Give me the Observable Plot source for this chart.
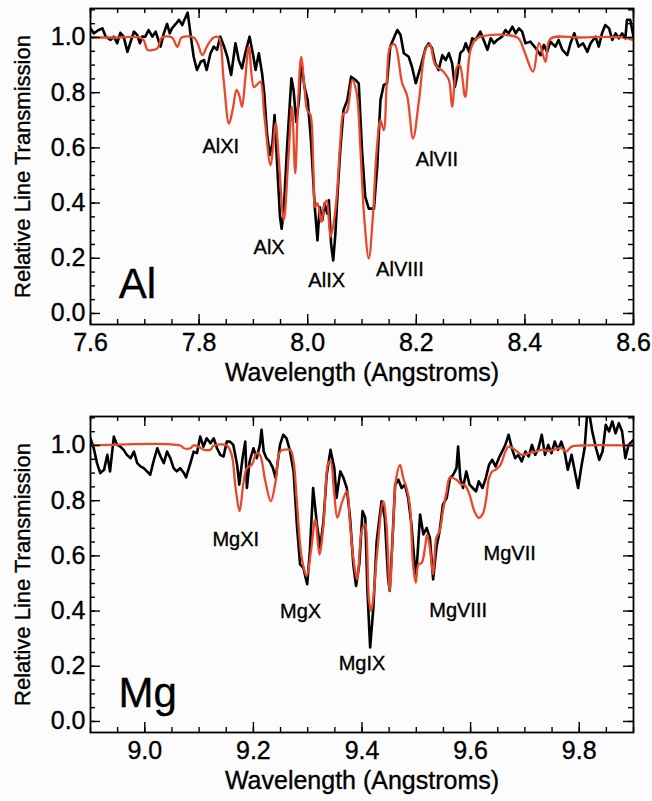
<!DOCTYPE html>
<html><head><meta charset="utf-8">
<script src="https://cdn.jsdelivr.net/npm/d3@7"></script>
<script src="https://cdn.jsdelivr.net/npm/@observablehq/plot@0.6"></script>
<style>
html,body{margin:0;padding:0;background:#fcfcfd;}
#chart{width:652px;}
#chart svg{display:block;}
#chart svg text{stroke:#000;stroke-width:0.35px;paint-order:stroke;}
</style></head><body><div id="chart"></div>
<script>
// ---------- Al panel data (wavelength Å, relative transmission) ----------
const alObserved = [[7.600,1.033],[7.606,1.015],[7.615,1.027],[7.622,1.033],[7.628,1.003],[7.637,0.991],[7.643,1.003],[7.649,0.979],[7.655,1.017],[7.661,1.003],[7.668,0.948],[7.674,0.985],[7.680,1.021],[7.686,1.009],[7.691,0.979],[7.695,1.003],[7.701,1.003],[7.707,1.027],[7.714,1.003],[7.720,1.021],[7.729,0.967],[7.735,1.015],[7.741,1.049],[7.746,1.015],[7.750,1.033],[7.757,1.049],[7.763,1.064],[7.769,1.045],[7.773,1.064],[7.779,1.090],[7.784,1.015],[7.790,0.930],[7.796,0.882],[7.803,0.912],[7.809,0.918],[7.814,0.882],[7.821,0.943],[7.827,0.967],[7.833,0.955],[7.839,1.003],[7.846,0.967],[7.852,0.930],[7.859,0.864],[7.867,0.979],[7.873,0.918],[7.879,0.888],[7.885,0.943],[7.893,1.003],[7.900,0.930],[7.904,0.882],[7.910,0.943],[7.916,0.870],[7.920,0.797],[7.925,0.652],[7.930,0.574],[7.935,0.616],[7.939,0.719],[7.944,0.531],[7.949,0.350],[7.952,0.307],[7.956,0.374],[7.962,0.604],[7.970,0.852],[7.974,0.809],[7.979,0.694],[7.984,0.773],[7.988,0.912],[7.994,0.821],[8.000,0.773],[8.006,0.628],[8.013,0.386],[8.018,0.265],[8.022,0.386],[8.027,0.338],[8.031,0.398],[8.036,0.362],[8.039,0.410],[8.043,0.253],[8.047,0.192],[8.051,0.289],[8.055,0.434],[8.060,0.592],[8.066,0.737],[8.073,0.773],[8.080,0.858],[8.088,0.846],[8.094,0.834],[8.100,0.592],[8.106,0.422],[8.1125,0.380],[8.122,0.380],[8.128,0.531],[8.134,0.773],[8.140,0.828],[8.146,0.834],[8.152,0.967],[8.165,1.027],[8.171,1.009],[8.177,0.943],[8.186,0.930],[8.192,0.894],[8.199,0.834],[8.208,0.894],[8.217,0.961],[8.223,0.979],[8.229,0.961],[8.235,0.906],[8.241,0.882],[8.248,0.936],[8.254,0.918],[8.260,0.943],[8.266,0.906],[8.271,0.821],[8.275,0.858],[8.281,0.943],[8.287,0.955],[8.291,0.979],[8.297,0.948],[8.303,0.997],[8.309,0.991],[8.318,1.021],[8.324,0.991],[8.331,0.955],[8.337,0.997],[8.343,0.979],[8.349,0.991],[8.358,1.003],[8.364,1.027],[8.370,1.015],[8.377,1.039],[8.383,1.015],[8.389,1.033],[8.395,1.021],[8.401,0.979],[8.410,0.985],[8.420,0.961],[8.429,0.936],[8.435,0.973],[8.441,0.948],[8.447,0.985],[8.456,0.967],[8.462,0.991],[8.469,0.955],[8.478,0.936],[8.484,0.979],[8.491,1.015],[8.499,0.967],[8.507,0.979],[8.515,0.948],[8.521,0.979],[8.530,1.003],[8.536,0.967],[8.542,1.015],[8.548,1.045],[8.555,1.033],[8.561,0.991],[8.567,1.015],[8.573,0.997],[8.579,1.015],[8.585,0.997],[8.588,1.064],[8.594,1.064],[8.600,1.003]];

const alModel = [[7.600,1.00],[7.650,1.00],[7.690,1.00],[7.698,0.99],[7.705,0.955],[7.715,0.955],[7.723,0.96],[7.732,1.00],[7.750,1.00],[7.760,0.966],[7.768,1.00],[7.790,1.00],[7.797,0.98],[7.806,0.936],[7.815,0.97],[7.827,1.00],[7.836,1.00],[7.845,0.85],[7.855,0.688],[7.862,0.74],[7.869,0.81],[7.874,0.79],[7.879,0.749],[7.885,0.85],[7.8915,0.967],[7.901,0.82],[7.907,0.83],[7.913,0.84],[7.920,0.72],[7.9315,0.537],[7.937,0.62],[7.941,0.69],[7.947,0.55],[7.956,0.338],[7.964,0.55],[7.971,0.749],[7.977,0.508],[7.982,0.75],[7.988,0.93],[7.994,0.82],[7.999,0.737],[8.005,0.72],[8.010,0.55],[8.014,0.386],[8.018,0.40],[8.025,0.331],[8.030,0.39],[8.035,0.41],[8.042,0.277],[8.048,0.33],[8.054,0.435],[8.060,0.62],[8.066,0.725],[8.072,0.73],[8.082,0.846],[8.090,0.80],[8.097,0.60],[8.104,0.35],[8.1125,0.199],[8.120,0.35],[8.127,0.59],[8.134,0.70],[8.140,0.664],[8.146,0.85],[8.152,0.967],[8.160,0.975],[8.174,0.834],[8.183,0.79],[8.194,0.634],[8.205,0.773],[8.217,0.955],[8.225,0.976],[8.235,0.90],[8.250,0.876],[8.260,0.846],[8.266,0.749],[8.275,0.894],[8.280,0.90],[8.290,0.785],[8.300,0.955],[8.312,0.997],[8.386,1.00],[8.398,0.955],[8.415,0.876],[8.426,0.98],[8.438,0.912],[8.447,0.995],[8.500,1.00],[8.580,1.00],[8.600,0.99]];

const alIonNames = ["AlXI","AlX","AlIX","AlVIII","AlVII"];
const alIonWave  = [7.840, 7.929, 8.035, 8.170, 8.238];
const alIonLevel = [0.605, 0.239, 0.120, 0.158, 0.556];
const alTicks = [7.6, 7.8, 8.0, 8.2, 8.4, 8.6];

// ---------- Mg panel data ----------
const mgObserved = [[8.900,1.026],[8.906,0.990],[8.912,0.936],[8.918,0.900],[8.925,0.912],[8.931,0.966],[8.936,0.906],[8.943,1.032],[8.949,1.002],[8.955,0.996],[8.961,0.984],[8.967,0.966],[8.974,0.954],[8.980,0.978],[8.986,0.936],[8.992,0.924],[8.998,0.918],[9.004,0.906],[9.010,0.894],[9.016,0.942],[9.023,0.990],[9.029,0.960],[9.035,0.936],[9.041,0.978],[9.047,0.954],[9.053,0.918],[9.059,0.906],[9.065,0.918],[9.072,0.900],[9.076,0.884],[9.084,0.936],[9.090,0.978],[9.096,0.972],[9.102,1.032],[9.108,0.996],[9.114,1.026],[9.121,1.008],[9.127,1.026],[9.133,0.990],[9.139,0.966],[9.145,0.960],[9.151,1.014],[9.157,1.014],[9.163,1.002],[9.170,0.930],[9.174,0.858],[9.180,0.954],[9.185,1.014],[9.188,0.846],[9.193,0.942],[9.200,0.990],[9.206,0.954],[9.212,1.002],[9.215,1.057],[9.219,0.978],[9.224,0.954],[9.230,0.942],[9.236,0.918],[9.241,0.882],[9.249,1.002],[9.255,1.039],[9.261,1.026],[9.267,0.984],[9.274,0.906],[9.280,0.714],[9.286,0.569],[9.292,0.557],[9.299,0.497],[9.304,0.617],[9.310,0.846],[9.317,0.714],[9.323,0.629],[9.329,0.726],[9.335,0.894],[9.342,0.984],[9.349,0.918],[9.353,0.810],[9.360,0.906],[9.366,0.882],[9.372,0.846],[9.378,0.738],[9.384,0.569],[9.389,0.491],[9.395,0.569],[9.401,0.762],[9.406,0.738],[9.410,0.473],[9.415,0.268],[9.421,0.413],[9.427,0.653],[9.436,0.798],[9.442,0.738],[9.448,0.521],[9.451,0.473],[9.456,0.653],[9.461,0.858],[9.467,0.876],[9.473,0.846],[9.479,0.858],[9.485,0.810],[9.491,0.714],[9.497,0.569],[9.500,0.533],[9.507,0.750],[9.513,0.678],[9.519,0.701],[9.525,0.666],[9.531,0.515],[9.537,0.629],[9.543,0.690],[9.549,0.786],[9.556,0.810],[9.562,0.882],[9.568,0.894],[9.574,0.918],[9.577,0.996],[9.581,0.882],[9.586,0.846],[9.592,0.906],[9.598,0.858],[9.604,0.846],[9.610,0.834],[9.615,0.870],[9.622,0.846],[9.628,0.882],[9.634,0.930],[9.640,0.948],[9.646,0.924],[9.652,0.954],[9.658,0.978],[9.664,1.002],[9.670,1.039],[9.676,0.990],[9.682,0.954],[9.688,0.966],[9.694,0.942],[9.701,0.978],[9.707,0.960],[9.713,1.002],[9.719,0.966],[9.725,0.990],[9.731,1.039],[9.737,0.966],[9.743,1.002],[9.749,0.972],[9.755,1.014],[9.761,0.984],[9.767,1.014],[9.773,0.978],[9.779,0.912],[9.786,0.966],[9.792,0.906],[9.798,0.846],[9.804,0.924],[9.810,0.990],[9.814,1.099],[9.818,1.123],[9.824,1.051],[9.831,0.990],[9.837,0.948],[9.843,0.978],[9.849,1.075],[9.855,1.051],[9.861,1.087],[9.867,1.044],[9.873,1.081],[9.879,1.051],[9.885,0.954],[9.891,1.002],[9.900,1.020]];

const mgModel = [[8.900,1.0],[9.065,1.0],[9.072,0.99],[9.084,0.99],[9.090,1.0],[9.100,0.995],[9.108,0.985],[9.121,0.985],[9.127,1.0],[9.151,1.0],[9.160,0.966],[9.167,0.85],[9.1745,0.762],[9.182,0.87],[9.188,0.918],[9.197,0.93],[9.206,0.972],[9.212,0.966],[9.222,0.87],[9.232,0.798],[9.241,0.87],[9.249,0.978],[9.258,0.985],[9.268,0.984],[9.274,0.942],[9.280,0.798],[9.289,0.593],[9.298,0.527],[9.306,0.617],[9.314,0.732],[9.3215,0.605],[9.329,0.71],[9.338,0.936],[9.342,0.942],[9.3485,0.834],[9.3546,0.738],[9.3626,0.79],[9.372,0.834],[9.378,0.714],[9.384,0.593],[9.391,0.515],[9.3995,0.69],[9.4055,0.714],[9.413,0.437],[9.417,0.40],[9.421,0.45],[9.427,0.593],[9.439,0.798],[9.445,0.714],[9.451,0.473],[9.457,0.690],[9.463,0.882],[9.470,0.930],[9.476,0.882],[9.482,0.846],[9.488,0.786],[9.494,0.569],[9.499,0.503],[9.504,0.569],[9.510,0.575],[9.516,0.629],[9.520,0.678],[9.525,0.629],[9.531,0.533],[9.537,0.666],[9.543,0.690],[9.549,0.762],[9.556,0.834],[9.562,0.884],[9.574,0.876],[9.583,0.858],[9.589,0.858],[9.598,0.822],[9.607,0.762],[9.615,0.738],[9.622,0.750],[9.628,0.798],[9.634,0.882],[9.640,0.906],[9.646,0.912],[9.655,0.930],[9.664,0.978],[9.670,0.996],[9.682,0.984],[9.694,0.966],[9.707,0.972],[9.719,0.978],[9.731,0.984],[9.743,0.980],[9.755,0.986],[9.767,0.990],[9.776,0.978],[9.786,0.996],[9.804,1.0],[9.900,1.0]];

const mgIonNames = ["MgXI","MgX","MgIX","MgVIII","MgVII"];
const mgIonWave  = [9.1675, 9.287, 9.400, 9.577, 9.672];
const mgIonLevel = [0.658, 0.399, 0.210, 0.402, 0.609];
const mgTicks = [9.0, 9.2, 9.4, 9.6, 9.8];

const yTicks = [0.0, 0.2, 0.4, 0.6, 0.8, 1.0];
const yDomain = [-0.04, 1.105];
const xTitle = "Wavelength (Angstroms)";
const yTitle = "Relative Line Transmission";

const FONT = "'Liberation Sans', Arial, Helvetica, sans-serif";
const RED = "#e8482c";

function panel({xDomain, xTicks, observed, model, names, waves, levels, element, elementWave, elementLevel, height, marginTop, marginBottom}) {
  const W = 652, mL = 90, mR = 19;
  const plotW = W - mL - mR, plotH = height - marginTop - marginBottom;
  const inX = v => v >= xDomain[0] - 1e-9 && v <= xDomain[1] + 1e-9;
  const xMinor = d3.range(Math.round(xDomain[0] * 20), Math.round(xDomain[1] * 20) + 1).map(i => i / 20).filter(inX);
  const yMinor = d3.range(0, 23).map(i => i / 20).filter(v => v <= yDomain[1]);
  const labels = names.map((n, i) => ({n, w: waves[i], t: levels[i]}));
  const tick = (data, opts) => Plot.ruleX(data, {x: d => d, stroke: "#000", strokeWidth: 1.4, ...opts});
  const tickY = (data, opts) => Plot.ruleY(data, {y: d => d, stroke: "#000", strokeWidth: 1.4, ...opts});
  return Plot.plot({
    width: W, height, marginLeft: mL, marginRight: mR, marginTop, marginBottom,
    style: {fontFamily: FONT, background: "#fcfcfd", color: "#000"},
    x: {domain: xDomain},
    y: {domain: yDomain},
    marks: [
      Plot.line(observed, {x: d => d[0], y: d => d[1], stroke: "#000", strokeWidth: 2.6, clip: true}),
      Plot.line(model, {x: d => d[0], y: d => d[1], stroke: RED, strokeWidth: 2.3, curve: "catmull-rom", clip: true}),
      tick(xMinor, {insetTop: plotH - 5}),
      tick(xTicks, {insetTop: plotH - 10}),
      tick(xMinor, {insetBottom: plotH - 5}),
      tick(xTicks, {insetBottom: plotH - 10}),
      tickY(yMinor, {insetRight: plotW - 5}),
      tickY(yTicks, {insetRight: plotW - 10}),
      tickY(yMinor, {insetLeft: plotW - 5}),
      tickY(yTicks, {insetLeft: plotW - 10}),
      Plot.frame({stroke: "#000", strokeWidth: 1.8}),
      Plot.axisX(xTicks, {anchor: "bottom", tickSize: 0, tickPadding: 9, tickFormat: d => d.toFixed(1), fontSize: 25, label: null}),
      Plot.axisY(yTicks, {anchor: "left", tickSize: 0, tickPadding: 5, tickFormat: d => d.toFixed(1), fontSize: 25, label: null}),
      Plot.text([xTitle], {text: d => d, frameAnchor: "bottom", dy: 56, fontSize: 25}),
      Plot.text([yTitle], {text: d => d, frameAnchor: "left", textAnchor: "middle", rotate: -90, dx: -68, fontSize: 22}),
      Plot.text(labels, {x: "w", y: "t", text: "n", fontSize: 20}),
      Plot.text([element], {x: () => elementWave, y: () => elementLevel, text: d => d, textAnchor: "start", fontSize: 42})
    ]
  });
}

const root = document.getElementById("chart");
root.appendChild(panel({xDomain: [7.6, 8.6], xTicks: alTicks, observed: alObserved, model: alModel,
  names: alIonNames, waves: alIonWave, levels: alIonLevel, element: "Al", elementWave: 7.652, elementLevel: 0.105,
  height: 400, marginTop: 8, marginBottom: 76}));
root.appendChild(panel({xDomain: [8.9, 9.9], xTicks: mgTicks, observed: mgObserved, model: mgModel,
  names: mgIonNames, waves: mgIonWave, levels: mgIonLevel, element: "Mg", elementWave: 8.9515, elementLevel: 0.10,
  height: 401, marginTop: 16, marginBottom: 69}));
</script>
</body></html>
